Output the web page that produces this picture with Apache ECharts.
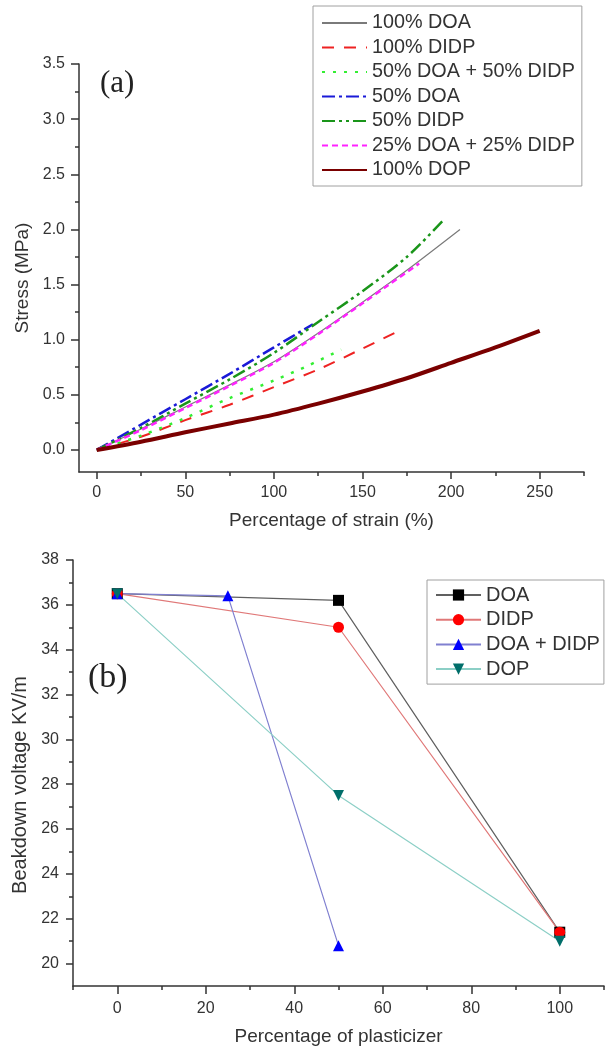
<!DOCTYPE html>
<html>
<head>
<meta charset="utf-8">
<script src="https://cdn.jsdelivr.net/npm/echarts@6/dist/echarts.min.js"></script>
<style>
  html, body { margin: 0; padding: 0; background: #ffffff; }
  #chart { width: 607px; height: 1053px; }
</style>
</head>
<body>
<div id="chart"></div>
<script>
// ---- (a) stress vs. strain ----
const strainTicks = [0, 50, 100, 150, 200, 250];
const strainMinorTicks = [25, 75, 125, 175, 225, 275];
const stressTicks = [0, 0.5, 1.0, 1.5, 2.0, 2.5, 3.0, 3.5];
const stressMinorTicks = [0.25, 0.75, 1.25, 1.75, 2.25, 2.75, 3.25];

const strainDOA100 = [0, 25, 50, 75, 100, 125, 150, 175, 205];
const stressDOA100 = [0, 0.19, 0.39, 0.59, 0.80, 1.06, 1.34, 1.63, 2.00];
const strainDIDP100 = [0, 25, 50, 75, 100, 125, 150, 168];
const stressDIDP100 = [0, 0.12, 0.27, 0.41, 0.57, 0.73, 0.92, 1.06];
const strainMix50 = [0, 25, 50, 75, 100, 120, 138];
const stressMix50 = [0, 0.13, 0.29, 0.47, 0.63, 0.77, 0.91];
const strainDOA50 = [0, 25, 50, 75, 100, 122];
const stressDOA50 = [0, 0.23, 0.46, 0.69, 0.93, 1.14];
const strainDIDP50 = [0, 25, 50, 75, 100, 125, 150, 175, 196];
const stressDIDP50 = [0, 0.20, 0.42, 0.64, 0.88, 1.16, 1.44, 1.75, 2.09];
const strainMix25 = [0, 25, 50, 75, 100, 125, 150, 165, 182];
const stressMix25 = [0, 0.18, 0.38, 0.58, 0.79, 1.05, 1.33, 1.50, 1.69];
const strainDOP100 = [0, 25, 50, 75, 100, 125, 150, 175, 200, 225, 250];
const stressDOP100 = [0, 0.075, 0.16, 0.24, 0.32, 0.42, 0.53, 0.65, 0.79, 0.93, 1.08];

// ---- (b) breakdown voltage vs. plasticizer content ----
const contentTicks = [0, 20, 40, 60, 80, 100];
const contentMinorTicks = [-10, 10, 30, 50, 70, 90, 110];
const voltageTicks = [20, 22, 24, 26, 28, 30, 32, 34, 36, 38];
const voltageMinorTicks = [21, 23, 25, 27, 29, 31, 33, 35, 37];

const contentDOA = [0, 50, 100];
const voltageDOA = [36.5, 36.2, 21.4];
const contentDIDP = [0, 50, 100];
const voltageDIDP = [36.5, 35.0, 21.4];
const contentBlend = [0, 25, 50];
const voltageBlend = [36.5, 36.4, 20.8];
const contentDOP = [0, 50, 100];
const voltageDOP = [36.5, 27.5, 21.0];

const FONT = '"Liberation Sans", Arial, sans-serif';
const SERIF = '"Liberation Serif", "Times New Roman", serif';
const INK = '#333333';
const zip = (xs, ys) => xs.map((x, i) => [x, ys[i]]);

function mainAxis(extra) {
  return Object.assign({
    type: 'value',
    axisLine: { show: true, onZero: false, lineStyle: { color: INK, width: 1.5 } },
    axisTick: { show: true, length: 7, lineStyle: { color: INK, width: 1.5 } },
    axisLabel: { fontFamily: FONT, fontSize: 16, color: INK },
    splitLine: { show: false },
    nameLocation: 'middle',
    nameTextStyle: { fontFamily: FONT, fontSize: 19, color: INK }
  }, extra);
}
function minorAxis(extra, ticks) {
  return Object.assign({
    type: 'value',
    axisLine: { show: false, onZero: false },
    axisTick: { show: true, length: 4, customValues: ticks, lineStyle: { color: INK, width: 1.5 } },
    axisLabel: { show: false },
    splitLine: { show: false }
  }, extra);
}

function curve(name, xs, ys, color, width, type) {
  return {
    name: name, type: 'line', xAxisIndex: 0, yAxisIndex: 0,
    data: zip(xs, ys), symbol: 'none', smooth: 0.3,
    lineStyle: { color: color, width: width, type: type },
    itemStyle: { color: color }
  };
}
function trend(name, xs, ys, symbol, rotate, markColor, lineColor) {
  return {
    name: name, type: 'line', xAxisIndex: 2, yAxisIndex: 2,
    data: zip(xs, ys), symbol: symbol, symbolRotate: rotate, symbolSize: 11,
    showSymbol: true,
    lineStyle: { color: lineColor, width: 1.2 },
    itemStyle: { color: markColor }
  };
}

const chart = echarts.init(document.getElementById('chart'), null, { renderer: 'canvas' });
chart.setOption({
  animation: false,
  backgroundColor: '#ffffff',
  title: [
    { text: '(a)', left: 100, top: 68, padding: 0,
      textStyle: { fontFamily: SERIF, fontSize: 31, fontWeight: 'normal', color: '#222' } },
    { text: '(b)', left: 88, top: 661, padding: 0,
      textStyle: { fontFamily: SERIF, fontSize: 34, fontWeight: 'normal', color: '#222' } }
  ],
  grid: [
    { left: 79, top: 64, width: 505, height: 408 },
    { left: 73, top: 560, width: 531, height: 426 }
  ],
  xAxis: [
    mainAxis({ gridIndex: 0, position: 'bottom', min: -10, max: 275,
      axisTick: { show: true, length: 7, customValues: strainTicks, lineStyle: { color: INK, width: 1.5 } },
      axisLabel: { customValues: strainTicks, margin: 13, fontFamily: FONT, fontSize: 16, color: INK },
      name: 'Percentage of strain (%)', nameGap: 39 }),
    minorAxis({ gridIndex: 0, position: 'bottom', min: -10, max: 275 }, strainMinorTicks),
    mainAxis({ gridIndex: 1, position: 'bottom', min: -10, max: 110,
      axisTick: { show: true, length: 8, customValues: contentTicks, lineStyle: { color: INK, width: 1.5 } },
      axisLabel: { customValues: contentTicks, margin: 15, fontFamily: FONT, fontSize: 16, color: INK },
      name: 'Percentage of plasticizer', nameGap: 41 }),
    minorAxis({ gridIndex: 1, position: 'bottom', min: -10, max: 110 }, contentMinorTicks)
  ],
  yAxis: [
    mainAxis({ gridIndex: 0, position: 'left', min: -0.2, max: 3.5,
      axisTick: { show: true, length: 8, customValues: stressTicks, lineStyle: { color: INK, width: 1.5 } },
      axisLabel: { customValues: stressTicks, margin: 14, fontFamily: FONT, fontSize: 16, color: INK,
        formatter: v => v.toFixed(1) },
      name: 'Stress (MPa)', nameRotate: 90, nameGap: 46,
      nameTextStyle: { fontFamily: FONT, fontSize: 19, color: INK, padding: [0, 20, 0, 0] } }),
    minorAxis({ gridIndex: 0, position: 'left', min: -0.2, max: 3.5 }, stressMinorTicks),
    mainAxis({ gridIndex: 1, position: 'left', min: 19, max: 38,
      axisTick: { show: true, length: 7, customValues: voltageTicks, lineStyle: { color: INK, width: 1.5 } },
      axisLabel: { customValues: voltageTicks, margin: 14, fontFamily: FONT, fontSize: 16, color: INK },
      name: 'Beakdown voltage KV/m', nameRotate: 90, nameGap: 43,
      nameTextStyle: { fontFamily: FONT, fontSize: 20, color: INK, padding: [0, 24, 0, 0] } }),
    minorAxis({ gridIndex: 1, position: 'left', min: 19, max: 38 }, voltageMinorTicks)
  ],
  legend: [
    {
      orient: 'vertical', left: 313, top: 6,
      padding: [7, 7, 6, 8], itemGap: 4.5, itemWidth: 45, itemHeight: 14,
      borderColor: '#a0a0a0', borderWidth: 1, backgroundColor: '#ffffff',
      itemStyle: { opacity: 0 },
      textStyle: { fontFamily: FONT, fontSize: 19.8, color: INK },
      data: ['100% DOA', '100% DIDP', '50% DOA + 50% DIDP', '50% DOA', '50% DIDP', '25% DOA + 25% DIDP', '100% DOP']
    },
    {
      orient: 'vertical', left: 427, top: 580,
      padding: [5, 4, 5, 8], itemGap: 4.7, itemWidth: 45, itemHeight: 14,
      borderColor: '#a0a0a0', borderWidth: 1, backgroundColor: '#ffffff',
      textStyle: { fontFamily: FONT, fontSize: 20, color: INK },
      data: ['DOA', 'DIDP', 'DOA + DIDP', 'DOP']
    }
  ],
  series: [
    curve('100% DOA', strainDOA100, stressDOA100, '#7a7a7a', 1.2, 'solid'),
    curve('100% DIDP', strainDIDP100, stressDIDP100, '#ee2222', 2, [12, 10]),
    curve('50% DOA + 50% DIDP', strainMix50, stressMix50, '#33ee33', 2.5, [3, 8]),
    curve('50% DOA', strainDOA50, stressDOA50, '#1a1ad8', 2.5, [13, 4, 3, 4]),
    curve('50% DIDP', strainDIDP50, stressDIDP50, '#1a951a', 2.5, [13, 4, 3, 4, 3, 4]),
    curve('25% DOA + 25% DIDP', strainMix25, stressMix25, '#ff22ff', 2.5, [6, 4]),
    curve('100% DOP', strainDOP100, stressDOP100, '#7a0000', 4, 'solid'),
    trend('DOA', contentDOA, voltageDOA, 'rect', 0, '#000000', '#606060'),
    trend('DIDP', contentDIDP, voltageDIDP, 'circle', 0, '#ff0000', '#e07878'),
    trend('DOA + DIDP', contentBlend, voltageBlend, 'triangle', 0, '#0000ff', '#8080d0'),
    trend('DOP', contentDOP, voltageDOP, 'triangle', 180, '#006e6a', '#8ccfc6')
  ]
});
</script>
</body>
</html>
